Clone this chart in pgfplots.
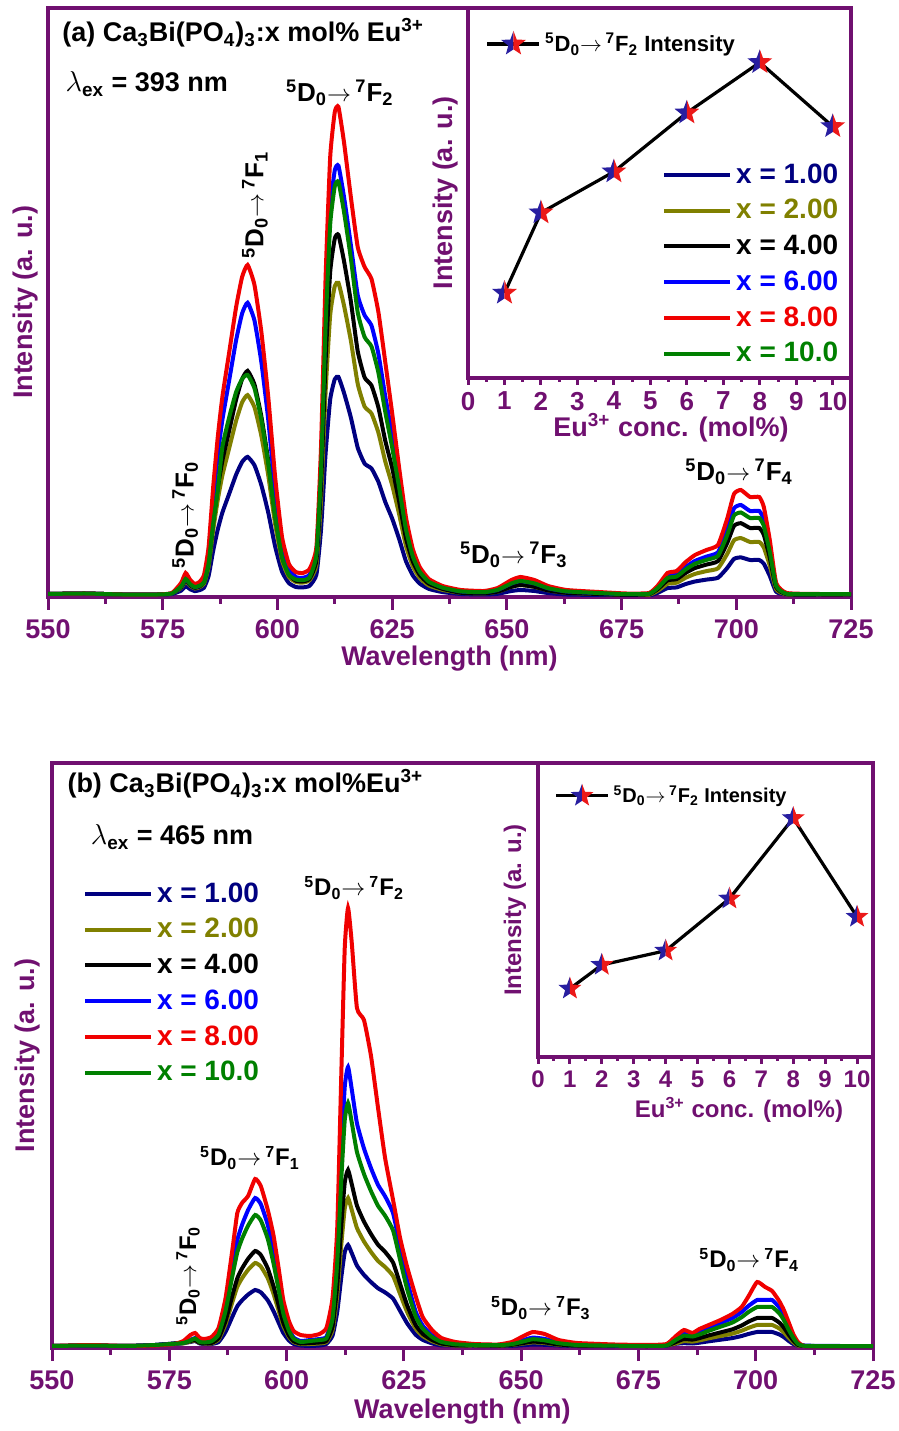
\documentclass[border=0pt]{standalone}
\usepackage{fontspec}
\setmainfont{Liberation Sans}
\usepackage{pgfplots}
\usepackage{pgfplotstable}
\pgfplotsset{compat=1.18}

\definecolor{axpurple}{RGB}{112,16,112}
\definecolor{cnavy}{RGB}{0,0,128}
\definecolor{colive}{RGB}{128,128,0}
\definecolor{cblue}{RGB}{0,0,255}
\definecolor{cred}{RGB}{240,0,0}
\definecolor{cgreen}{RGB}{0,128,0}
\definecolor{starblue}{RGB}{40,30,160}
\definecolor{starred}{RGB}{235,25,25}

% two-coloured star: left half blue, right half red
\newcommand\starpath{%
  \pgfpathmoveto{\pgfpointpolar{90}{\pgfplotmarksize}}%
  \pgfpathlineto{\pgfpointpolar{126}{0.42\pgfplotmarksize}}%
  \pgfpathlineto{\pgfpointpolar{162}{\pgfplotmarksize}}%
  \pgfpathlineto{\pgfpointpolar{198}{0.42\pgfplotmarksize}}%
  \pgfpathlineto{\pgfpointpolar{234}{\pgfplotmarksize}}%
  \pgfpathlineto{\pgfpointpolar{270}{0.42\pgfplotmarksize}}%
  \pgfpathlineto{\pgfpointpolar{306}{\pgfplotmarksize}}%
  \pgfpathlineto{\pgfpointpolar{342}{0.42\pgfplotmarksize}}%
  \pgfpathlineto{\pgfpointpolar{18}{\pgfplotmarksize}}%
  \pgfpathlineto{\pgfpointpolar{54}{0.42\pgfplotmarksize}}%
  \pgfpathclose}
\pgfdeclareplotmark{bistar}{%
  \begin{pgfscope}
    \pgfpathrectangle{\pgfpoint{-2\pgfplotmarksize}{-2\pgfplotmarksize}}{\pgfpoint{2\pgfplotmarksize}{4\pgfplotmarksize}}%
    \pgfusepath{clip}%
    \pgfsetfillcolor{starblue}\starpath\pgfusepath{fill}%
  \end{pgfscope}
  \begin{pgfscope}
    \pgfpathrectangle{\pgfpoint{0pt}{-2\pgfplotmarksize}}{\pgfpoint{2\pgfplotmarksize}{4\pgfplotmarksize}}%
    \pgfusepath{clip}%
    \pgfsetfillcolor{starred}\starpath\pgfusepath{fill}%
  \end{pgfscope}}

\newcommand\fs[1]{\bfseries\fontsize{#1}{#1}\selectfont}
\newcommand\trans[1]{\textsuperscript{5}D\textsubscript{0}$\rightarrow$\,\textsuperscript{7}F\textsubscript{#1}}

\pgfplotsset{
  purpleframe/.style={
    scale only axis, anchor=south west,
    ytick=\empty, xtick pos=bottom, tick align=outside,
    axis line style={axpurple, line width=1.75pt},
    tick style={axpurple, line width=1.5pt},
    /pgf/number format/assume math mode=true,
    legend cell align=left,
  },
  specaxis/.style={
    purpleframe, xmin=550, xmax=725, ymin=0,
    xtick={550,575,...,725}, minor x tick num=1,
    major tick length=6.5pt, minor tick length=3.5pt,
    tick label style={font=\fs{13.5}, text=axpurple},
    label style={font=\fs{13.5}, text=axpurple},
    xticklabel shift=1.5pt,
    xlabel={Wavelength (nm)}, ylabel={Intensity (a. u.)},
    legend image code/.code={\draw[##1] (0pt,0pt) -- (33pt,0pt);},
    legend style={draw=none, fill=none, font=\fs{14}, row sep=2.6pt},
    every axis plot/.append style={line width=2pt, smooth, tension=0.3},
  },
  insetaxis/.style={
    purpleframe, xmin=0, xmax=10.5, xtick={0,...,10}, minor x tick num=1,
    major tick length=3.5pt, minor tick length=2pt,
    xlabel={Eu\textsuperscript{3+} conc. (mol\%)}, ylabel={Intensity (a. u.)},
    legend image code/.code={\draw[mark repeat=2,mark phase=2,##1]
      plot coordinates {(0pt,0pt) (13pt,0pt) (26pt,0pt)};},
    legend style={draw=none, fill=none, at={(0.03,0.985)}, anchor=north west},
  },
}

% emission spectra, lambda_ex = 393 nm (columns: x = 1, 2, 4, 6, 8, 10 mol%)
\pgfplotstableread{
wl n1 o2 k4 b6 r8 g10
550 3 3 3 3 3 3
558 3.5 3.5 3.5 3.5 3.5 3.5
566 2.5 2.5 2.5 2.5 2.5 2.5
574 2.5 2.5 2.5 2.5 2.5 2.5
577 3 3.5 3.5 3.5 4 3.5
579 6.3 9.1 9.8 10.5 14 10.5
580 10.8 15.6 16.8 18 24 18
581 7.7 11.1 11.9 12.8 17 12.8
582 5.9 8.5 9.1 9.8 13 9.8
583 6.8 9.8 10.5 11.3 15 11.3
584 9.3 13.4 15.0 19.5 22 14.7
585 21.1 30.4 34.1 44.3 50 33.5
586 46.4 66.9 74.9 97.5 110 73.6
587 67.5 97.3 109.0 141.8 160 107.0
588 84.4 121.6 136.2 177.2 200 150
589.5 103.4 149.0 166.8 217.1 245 180
591 122.4 176.3 197.5 256.9 290 205
592.3 135.0 194.6 217.9 283.5 320 218
593.5 140.1 201.9 226.1 294.2 332 222.1
595 131.7 189.7 212.5 276.4 312 208.7
596.5 111.8 161.1 180.5 234.8 265 177.3
598 84.4 121.6 136.2 177.2 200 133.8
599.5 50.6 73.0 81.7 106.3 120 80.3
601 25.3 36.5 40.9 53.2 60 40.1
602.5 13.9 20.1 22.5 29.2 33 22.1
604 10 15 16.3 20 25 17.5
605.5 9.6 14.4 15.6 19.2 24 16.8
607 11.2 16.8 18.2 22.4 28 19.6
608.5 22.5 32.1 37.0 44 50 42.4
609.5 67.4 96.2 110.9 132 150 127.1
610.5 143.7 205.1 236.5 281.6 320 271.0
611.5 197.6 282.0 325.2 387.2 440 372.7
612.5 217.8 310.9 358.4 426.8 485 410.8
613.3 220.0 314.1 362.1 431.2 490 415.0
614.5 204.3 291.7 336.2 400.4 455 385.4
616 179.6 256.4 295.6 352 400 338.8
617.5 149.3 213.1 245.7 301.8 350 284.6
619 133.4 190.4 219.5 281.7 330 259.9
620.5 128.5 183.5 211.5 271.4 318 250.5
622 115.2 164.4 189.6 243.3 285 224.5
623.5 95.0 135.6 156.3 200.6 235 185.1
625 78.5 112.0 129.2 161.9 184 149.6
626.5 58.4 83.3 96.1 114.4 130 110.1
628 35.9 51.3 59.1 70.4 80 67.8
629.5 21.6 30.8 35.5 42.2 48 40.7
631 13.5 19.2 22.2 26.4 30 25.4
633 8.1 11.5 13.3 15.8 18 15.2
636 4.9 7.1 8.1 9.7 11 9.3
640 3 4.2 4.2 5.6 7 5.6
645 2.5 3.6 3.6 4.8 6 4.8
648 3.2 5.4 5.4 7.2 9 7.2
651 6.0 10.2 10.2 13.6 17 13.6
653 7 12 12 16 20 16
656 6 10.2 10.2 13.6 17 13.6
659 3.9 6.6 6.6 8.8 11 8.8
663 2.5 4.2 4.2 5.6 7 5.6
670 2 3 3 4 5 4
676 1.5 2.1 2.1 2.8 3.5 2.8
681 1.5 2.2 2.8 3.4 4 3.2
683 4.4 6.6 8.3 10.3 12 9.5
685 8.9 13.2 16.6 20.6 24 19.0
687 9.6 14.3 17.9 22.4 26 20.5
689 13.0 19.3 24.2 30.1 35 27.7
691 15.5 23.1 29.0 36.1 42 33.2
693.5 17.4 25.9 32.4 40.4 47 37.1
696 19.2 28.6 35.9 44.7 52 41.1
698 28.9 42.9 53.8 67.1 78 61.6
699.5 38.1 56.7 71.1 88.6 103 81.4
701 39.6 58.9 73.8 92.0 107 84.5
703 37 55 69 86 100 79
705 37 55 69 86 100 79
706 33.3 49.5 62.1 77.4 90 71.1
707.3 21.1 31.4 39.3 49.0 57 45.0
708.7 5.2 7.7 9.7 12.0 14 11.1
711 2.5 2.5 2.8 3.4 4 3.2
718 2.5 2.5 2.5 2.8 3 2.8
725 2.5 2.5 2.5 2.8 3 2.8
}\specA

% emission spectra, lambda_ex = 465 nm
\pgfplotstableread{
wl n1 o2 k4 b6 r8 g10
550 2 2 2 2 2 2
558 2.5 2.5 2.5 2.5 3 2.5
566 2 2 2 2 2 2
572 3 2.8 3 3 2.5 3
576 4.5 4 4.5 4.2 4 4.2
578 5 4.5 5.2 5 7 5
579.5 6 6.5 7 8 13 7.5
580.5 7 7.5 8 10 15 9.5
581.5 4.5 5 5.2 6.5 10 6
582.5 4 4.5 4.8 6 9 5.5
584 4 4.5 5 7.5 11 6.7
585.5 6 8.5 9.7 15 20 13.3
587 16.2 23.8 27.2 42 50 37.2
588.5 31.9 46.8 53.4 82.5 100 73.2
589.5 41.8 61.2 69.8 108 135 95.8
590.5 47.6 69.7 79.5 123 145 109.1
591.8 53.4 78.2 89.2 138 152 122.4
593.3 58 85 97 150 169 133
594.5 55.7 81.6 93.1 144 162 127.7
596 47.6 69.7 79.5 123 138 109.1
597.2 37.1 54.4 62.1 96 113 85.1
598.3 25.5 37.4 42.7 66 80 58.5
599.3 15.1 22.1 25.2 39 48 34.6
600.5 7.5 11.1 12.6 19.5 27 17.3
601.5 4.1 6.0 6.8 10.5 17 9.3
603 2.5 3.8 4.5 7 13 6
605 2 4 5 8 12 7
607 2.5 4.5 5.5 9 14 8
608.5 4.1 6 7.1 11.2 20 9.8
609.8 12.4 18 21.4 33.7 50 29.4
610.8 36.1 52.5 62.3 98.4 120 85.8
611.7 72.1 105 124.6 196.7 280 171.5
612.4 95.8 139.5 165.5 261.3 400 227.9
613.1 103 150 178 281 440 245
613.9 94.8 138 163.8 258.5 405 225.4
615 82.4 120 142.4 224.8 340 196
616.5 73.1 106.5 126.4 199.5 328 174
618 65.9 96 113.9 179.8 292 156.8
619.5 59.7 87 103.2 163.0 240 142.1
621 55.6 81 96.1 151.7 190 132.3
622.7 49.4 72 85.4 134.9 148 117.6
624.2 37.1 54 64.1 101.2 110 88.2
625.7 24.7 36 42.7 67.4 81 58.8
627.5 13.4 19.5 23.1 36.5 52 31.9
629 8.2 12 14.2 22.5 31 19.6
631 4.6 6.8 8.0 12.6 18 11.0
633 2.6 3.8 4.5 7.0 10 6.1
636 2.5 2.5 2.7 4.2 6 3.7
640 2 2.5 2.8 3.2 4 3
645 2 2.2 2.4 3 3.5 2.8
648 2.2 3 3.2 4.3 6 3.8
650.5 2.8 4.5 5 8 12 6.6
652.5 3.5 5.6 6.4 10.4 16 8.8
655 3.2 5 5.6 9.1 14 7.7
658 2.5 3.2 3.5 5.5 8 4.8
662 2 2.5 2.5 3.5 5 3
670 2 2 2.2 2.5 3.5 2.3
677 2 2 2 2.2 3 2
681 2.5 2.5 2.5 2.5 4 2.5
683 4.2 4.6 6 9.6 12 8.2
684.7 4.8 6.9 9 14.4 18 12.3
686.5 4.5 6.4 8.4 13.4 15 11.5
688 5.3 7.6 9.9 15.8 19 13.5
690 6.7 9.7 12.6 20.2 23 17.2
692.5 8.3 12 15.6 25 28 21.3
695 9.9 14.3 18.6 29.8 34 25.4
697 12 17.3 22.5 36 41 30.8
698.5 14.1 20.2 26.4 42.2 52 36.1
700.3 16 23 30 48 66 41
702 16 23 30 48 61 41
703.5 16 23 30 48 57 41
705 13.6 19.6 25.5 40.8 47 34.9
706 10.9 15.6 20.4 32.6 38 27.9
707 7.2 10.4 13.5 21.6 26 18.5
708 4 5.8 7.5 12 14 10.3
709 2.2 2.3 3 4.8 6 4.1
710.5 2 2 2 2.4 2 2.1
718 2 2 2 2 2 2
725 2 2 2 2 2 2
}\specB

\begin{document}
\begin{tikzpicture}
\useasboundingbox (0,0) rectangle (449.5pt,715.5pt);

% ---------------- (a) lambda_ex = 393 nm ----------------
\begin{axis}[specaxis, at={(24pt,417pt)}, width=401.5pt, height=294.5pt, ymax=589,
  xlabel style={at={(rel axis cs:0.5,-0.105)}, anchor=center},
  ylabel style={at={(rel axis cs:-0.0274,0.5)}, anchor=center},
  legend style={at={(0.997,0.75)}, anchor=north east}]
\addplot[cnavy]  table[x=wl,y=n1]{\specA};  \addlegendentry{\textcolor{cnavy}{x = 1.00}}
\addplot[colive] table[x=wl,y=o2]{\specA};  \addlegendentry{\textcolor{colive}{x = 2.00}}
\addplot[black]  table[x=wl,y=k4]{\specA};  \addlegendentry{\textcolor{black}{x = 4.00}}
\addplot[cblue]  table[x=wl,y=b6]{\specA};  \addlegendentry{\textcolor{cblue}{x = 6.00}}
\addplot[cred]   table[x=wl,y=r8]{\specA};  \addlegendentry{\textcolor{cred}{x = 8.00}}
\addplot[cgreen] table[x=wl,y=g10]{\specA}; \addlegendentry{\textcolor{cgreen}{x = 10.0}}
\node[font=\fs{13.5}, anchor=base west] at (axis cs:551.6,555)
  {(a) Ca\textsubscript{3}Bi(PO\textsubscript{4})\textsubscript{3}:x mol\% Eu\textsuperscript{3+}};
\node[font=\fs{13.5}, anchor=base west] at (axis cs:552.3,505) {$\lambda$\textsubscript{ex} = 393 nm};
\node[font=\fs{13}] at (axis cs:613.6,504) {\trans{2}};
\node[font=\fs{13}, rotate=90] at (axis cs:595.1,392) {\trans{1}};
\node[font=\fs{13}, rotate=90] at (axis cs:579.9,82) {\trans{0}};
\node[font=\fs{13}] at (axis cs:651.5,42) {\trans{3}};
\node[font=\fs{13}] at (axis cs:700.6,125) {\trans{4}};
\end{axis}

\begin{axis}[insetaxis, at={(234pt,526.5pt)}, width=191.5pt, height=185pt,
  ymin=120.5, ymax=553.7,
  tick label style={font=\fs{13}, text=axpurple},
  label style={font=\fs{13.5}, text=axpurple},
  xlabel style={at={(rel axis cs:0.53,-0.135)}, anchor=center},
  ylabel style={at={(rel axis cs:-0.06,0.5)}, anchor=center},
  legend style={font=\fs{11}}]
\addplot[black, line width=1.6pt, mark=bistar, mark size=6.5pt]
  coordinates {(1,220)(2,314)(4,362)(6,431)(8,490)(10,415)};
\addlegendentry{\trans{2} Intensity}
\end{axis}

% ---------------- (b) lambda_ex = 465 nm ----------------
\begin{axis}[specaxis, at={(26pt,41.5pt)}, width=410.5pt, height=292.5pt, ymax=585,
  xlabel style={at={(rel axis cs:0.5,-0.109)}, anchor=center},
  ylabel style={at={(rel axis cs:-0.0298,0.5)}, anchor=center},
  legend style={at={(0.03,0.81)}, anchor=north west}]
\addplot[cnavy]  table[x=wl,y=n1]{\specB};  \addlegendentry{\textcolor{cnavy}{x = 1.00}}
\addplot[colive] table[x=wl,y=o2]{\specB};  \addlegendentry{\textcolor{colive}{x = 2.00}}
\addplot[black]  table[x=wl,y=k4]{\specB};  \addlegendentry{\textcolor{black}{x = 4.00}}
\addplot[cblue]  table[x=wl,y=b6]{\specB};  \addlegendentry{\textcolor{cblue}{x = 6.00}}
\addplot[cred]   table[x=wl,y=r8]{\specB};  \addlegendentry{\textcolor{cred}{x = 8.00}}
\addplot[cgreen] table[x=wl,y=g10]{\specB}; \addlegendentry{\textcolor{cgreen}{x = 10.0}}
\node[font=\fs{13.5}, anchor=base west] at (axis cs:551.8,555)
  {(b) Ca\textsubscript{3}Bi(PO\textsubscript{4})\textsubscript{3}:x mol\%Eu\textsuperscript{3+}};
\node[font=\fs{13.5}, anchor=base west] at (axis cs:556.8,503) {$\lambda$\textsubscript{ex} = 465 nm};
\node[font=\fs{12}] at (axis cs:614.4,460) {\trans{2}};
\node[font=\fs{12}] at (axis cs:592.2,190) {\trans{1}};
\node[font=\fs{12}, rotate=90] at (axis cs:579.0,72) {\trans{0}};
\node[font=\fs{12}] at (axis cs:654.2,40) {\trans{3}};
\node[font=\fs{12}] at (axis cs:698.6,88) {\trans{4}};
\end{axis}

\begin{axis}[insetaxis, at={(269pt,187pt)}, width=167.5pt, height=147pt,
  ymin=-32, ymax=549,
  tick label style={font=\fs{12}, text=axpurple},
  label style={font=\fs{12}, text=axpurple},
  xlabel style={at={(rel axis cs:0.6,-0.181)}, anchor=center},
  ylabel style={at={(rel axis cs:-0.0687,0.5)}, anchor=center},
  legend style={font=\fs{10}}]
\addplot[black, line width=1.6pt, mark=bistar, mark size=6pt]
  coordinates {(1,103)(2,150)(4,178)(6,281)(8,440)(10,245)};
\addlegendentry{\trans{2} Intensity}
\end{axis}
\end{tikzpicture}
\end{document}
